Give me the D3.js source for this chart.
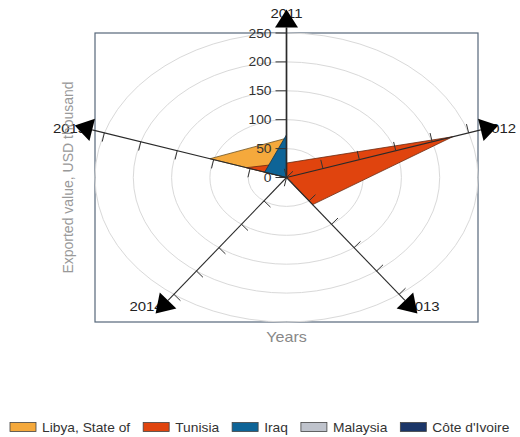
<!DOCTYPE html>
<html><head><meta charset="utf-8">
<script src="https://cdnjs.cloudflare.com/ajax/libs/d3/7.8.5/d3.min.js"></script>
<style>
html,body{margin:0;padding:0;background:#fff;}
text{font-family:"Liberation Sans",Arial,sans-serif;}
</style></head>
<body><svg id="chart" width="520" height="437"></svg>
<script>
const years = ["2011", "2012", "2013", "2014", "2015"];
const seriesNames = ["Libya, State of", "Tunisia", "Iraq", "Malaysia", "Côte d'Ivoire"];
const libyaValues = [68, 0, 0, 0, 105];
const tunisiaValues = [25, 228, 58, 0, 55];
const iraqValues = [74, 0, 0, 0, 30];
const malaysiaValues = [0, 0, 0, 0, 0];
const coteValues = [0, 0, 0, 0, 0];
const tickValues = [0, 50, 100, 150, 200, 250];
const colors = ["#f5a93c", "#e0440e", "#0e6497", "#bfc3cc", "#1b3668"];
const strokes = ["#6b5020", "#6a2a10", "#0a3550", "#666", "#111"];

const svg = d3.select("#chart");
const box = {x0: 95, x1: 478, y0: 33, y1: 322};
const cx = (box.x0 + box.x1) / 2, cy = (box.y0 + box.y1) / 2;
const rx = d3.scaleLinear().domain([0, 250]).range([0, (box.x1 - box.x0) / 2]);
const ry = d3.scaleLinear().domain([0, 250]).range([0, (box.y1 - box.y0) / 2]);
const ang = d3.scalePoint().domain(years.concat(["_end"])).range([0, 2 * Math.PI]);
const TX = 1.15; // horizontal text stretch of reference

function pt(year, v) {
  const a = ang(year);
  return [cx + Math.sin(a) * rx(v), cy - Math.cos(a) * ry(v)];
}
function stext(g, x, y, str, anchor) {
  return g.append("text").attr("transform", `translate(${x},${y}) scale(${TX},1)`)
    .attr("text-anchor", anchor).text(str);
}

// frame
svg.append("rect").attr("x", box.x0).attr("y", box.y0)
  .attr("width", box.x1 - box.x0).attr("height", box.y1 - box.y0)
  .attr("fill", "#fff").attr("stroke", "#56677a").attr("stroke-width", 1.2);

// gridlines
svg.append("g").selectAll("ellipse").data(tickValues.filter(d => d > 0)).join("ellipse")
  .attr("cx", cx).attr("cy", cy).attr("rx", d => rx(d)).attr("ry", d => ry(d))
  .attr("fill", "none").attr("stroke", "#d9d9d9").attr("stroke-width", 1);

// series polygons
const allSeries = [libyaValues, tunisiaValues, iraqValues, malaysiaValues, coteValues];
const line = d3.line().curve(d3.curveLinearClosed);
svg.append("g").selectAll("path").data(allSeries).join("path")
  .attr("d", vals => line(years.map((y, i) => pt(y, vals[i]))))
  .attr("fill", (d, i) => colors[i]).attr("stroke", (d, i) => strokes[i])
  .attr("stroke-width", 0.8).attr("stroke-linejoin", "round");

// axes
const axG = svg.append("g");
const tipF = 1.163, arrowLen = 18, arrowHalf = 11.5;
years.forEach((y, i) => {
  const a = ang(y);
  const tip = [cx + Math.sin(a) * rx(250) * tipF, cy - Math.cos(a) * ry(250) * tipF];
  const dx = tip[0] - cx, dy = tip[1] - cy, L = Math.hypot(dx, dy);
  const ux = dx / L, uy = dy / L;
  const base = [tip[0] - ux * arrowLen, tip[1] - uy * arrowLen];
  axG.append("line").attr("x1", cx).attr("y1", cy).attr("x2", base[0]).attr("y2", base[1])
    .attr("stroke", "#2a2a2a").attr("stroke-width", i === 0 ? 1.7 : 1.1);
  const px = uy, py = -ux, tl = i === 0 ? 11 : 9;
  tickValues.forEach(v => {
    const p = pt(y, v);
    axG.append("line").attr("x1", p[0]).attr("y1", p[1])
      .attr("x2", p[0] + px * tl).attr("y2", p[1] + py * tl)
      .attr("stroke", "#333").attr("stroke-width", 1);
  });
  y === years[0] && tickValues.forEach(v => {
    const p = pt(y, v);
    stext(axG, p[0] - 15, p[1] + 4.5, String(v), "end")
      .attr("font-size", 12).attr("fill", "#333");
  });
  const lf = 1.1;
  const lp = [cx + Math.sin(a) * rx(250) * lf, cy - Math.cos(a) * ry(250) * lf];
  const s = Math.sin(a);
  const anchor = s > 0.1 ? "start" : (s < -0.1 ? "end" : "middle");
  const lx = anchor === "start" ? lp[0] - 4 : lp[0];
  const ly = i === 0 ? lp[1] - 1 : lp[1] + 4.5;
  stext(axG, lx, ly, y, anchor).attr("font-size", 13).attr("fill", "#222");
  axG.append("path")
    .attr("d", `M${tip[0]},${tip[1]}L${base[0] + px * arrowHalf},${base[1] + py * arrowHalf}L${base[0] - px * arrowHalf},${base[1] - py * arrowHalf}Z`)
    .attr("fill", "#000");
});

// axis titles
svg.append("text").attr("transform", `translate(73,${cy}) rotate(-90)`)
  .attr("text-anchor", "middle").attr("font-size", 14).attr("fill", "#999")
  .text("Exported value, USD thousand");
stext(svg, cx, 342, "Years", "middle").attr("font-size", 14).attr("fill", "#888");

// legend
const lg = svg.append("g");
let lx = 10;
seriesNames.forEach((n, i) => {
  lg.append("rect").attr("x", lx).attr("y", 422.5).attr("width", 26).attr("height", 9)
    .attr("fill", colors[i]).attr("stroke", "#444").attr("stroke-width", 0.8);
  const t = stext(lg, lx + 32, 432, n, "start").attr("font-size", 12).attr("fill", "#333");
  const w = t.node().getComputedTextLength() * TX;
  lx += 32 + w + 13;
});
</script></body></html>
